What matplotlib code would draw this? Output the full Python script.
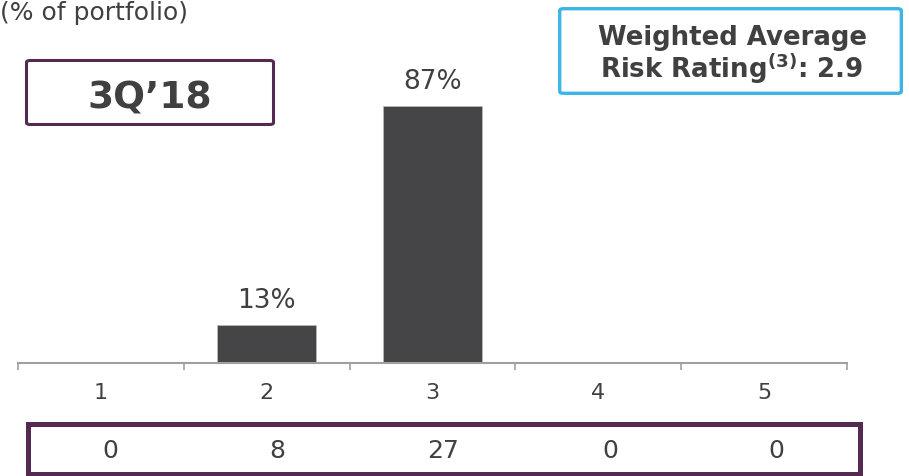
import numpy as np
import matplotlib
matplotlib.use("Agg")
import matplotlib.pyplot as plt
from matplotlib.patches import FancyBboxPatch

plt.rcParams["font.family"] = ["DejaVu Sans"]
plt.rcParams["mathtext.fontset"] = "dejavusans"

# donnees
ratings = ["1", "2", "3", "4", "5"]
pct_portfolio = [0, 13, 87, 0, 0]
nb_investments = [0, 8, 27, 0, 0]
period = "3Q\u201918"
wavg_rating = 2.9

W, H = 909, 476
txt_col = "#404040"
bar_col = "#454547"
purple = "#542A53"
blue = "#3BB5E6"

fig = plt.figure(figsize=(W / 100, H / 100), dpi=100)

def fx(px):
    return px / W

def fy(py):
    return 1 - py / H

# graphique principal
ax = fig.add_axes([fx(18), fy(363), fx(829), 295 / H])
pos = np.arange(1, len(ratings) + 1)
bars = ax.bar(pos, pct_portfolio, width=0.6, color=bar_col, edgecolor="#bdbdbd", linewidth=0.5)
ax.bar_label(bars, labels=[f"{v}%" if v else "" for v in pct_portfolio],
             padding=8, fontsize=19, color=txt_col)
ax.set_xlim(0.5, len(ratings) + 0.5)
ax.set_ylim(0, 100)
for s in ["top", "left", "right"]:
    ax.spines[s].set_visible(False)
ax.spines["bottom"].set_color("#a0a0a0")
ax.spines["bottom"].set_linewidth(1.5)
ax.set_yticks([])
ax.set_xticks(np.arange(0.5, len(ratings) + 1, 1))
ax.set_xticklabels([])
ax.tick_params(axis="x", which="major", length=5, width=1.2, color="#a0a0a0")
ax.set_xticks(pos, minor=True)
ax.set_xticklabels(ratings, minor=True)
ax.tick_params(axis="x", which="minor", length=0, pad=14.5, labelsize=16, labelcolor=txt_col)

# tableau du bas (nombre)
ax2 = fig.add_axes([fx(27.5), fy(474), 832 / W, 50 / H])
ax2.set_xlim(0.5, len(ratings) + 0.5)
ax2.set_ylim(0, 1)
ax2.set_xticks([])
ax2.set_yticks([])
for s in ax2.spines.values():
    s.set_color(purple)
    s.set_linewidth(3.6)
for p, n in zip(pos, nb_investments):
    ax2.text(p, 0.45, str(n), ha="center", va="center", fontsize=18, color=txt_col)

# titre
fig.text(fx(0), fy(20), "(% of portfolio)", fontsize=18, color=txt_col, ha="left", va="baseline")

# boite 3Q'18
box1 = FancyBboxPatch((fx(26.5), fy(124.5)), fx(247), 64 / H, transform=fig.transFigure,
                      boxstyle="round,pad=0,rounding_size=0.004", facecolor="white",
                      edgecolor=purple, linewidth=2.2)
fig.patches.append(box1)
fig.text(fx(150), fy(108), period, fontsize=27, fontweight="bold", color=txt_col,
         ha="center", va="baseline")

# boite notation moyenne
box2 = FancyBboxPatch((fx(559.7), fy(93.3)), fx(341.6), 84.6 / H, transform=fig.transFigure,
                      boxstyle="round,pad=0,rounding_size=0.004", facecolor="white",
                      edgecolor=blue, linewidth=2.4)
fig.patches.append(box2)
fig.text(fx(732), fy(45), "Weighted Average", fontsize=18.7, fontweight="bold",
         color=txt_col, ha="center", va="baseline")
fig.text(fx(732), fy(78), r"Risk Rating$^{\mathbf{(3)}}$: " + f"{wavg_rating}", fontsize=18.7,
         fontweight="bold", color=txt_col, ha="center", va="baseline")

fig.savefig("out.png", dpi=100)
